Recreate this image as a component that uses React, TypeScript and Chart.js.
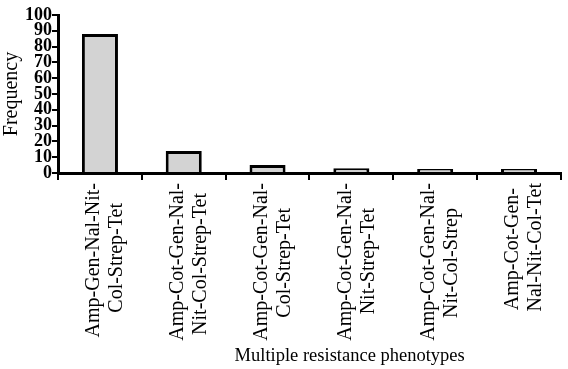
import React, { useEffect, useRef } from "react";
import { Chart, registerables } from "chart.js";

Chart.register(...registerables);

const categories: string[][] = [
  ["Amp-Gen-Nal-Nit-", "Col-Strep-Tet"],
  ["Amp-Cot-Gen-Nal-", "Nit-Col-Strep-Tet"],
  ["Amp-Cot-Gen-Nal-", "Col-Strep-Tet"],
  ["Amp-Cot-Gen-Nal-", "Nit-Strep-Tet"],
  ["Amp-Cot-Gen-Nal-", "Nit-Col-Strep"],
  ["Amp-Cot-Gen-", "Nal-Nit-Col-Tet"],
];
const frequency: number[] = [88, 14, 5, 3, 1, 1];
const yTitle = "Frequency";
const xTitle = "Multiple resistance phenotypes";
const yMin = 0;
const yMax = 100;
const yStep = 10;

const FAMILY = "'Liberation Serif', 'DejaVu Serif', serif";
const LABEL_SIZE = 20;

function centerLines(lines: string[]): string[] {
  const ctx = document.createElement("canvas").getContext("2d")!;
  ctx.font = `${LABEL_SIZE}px ${FAMILY}`;
  const widths = lines.map((l) => ctx.measureText(l).width);
  const max = Math.max(...widths);
  const sp = ctx.measureText("\u00A0").width || LABEL_SIZE * 0.25;
  return lines.map((l, i) => l + "\u00A0".repeat(Math.round((max - widths[i]) / 2 / sp)));
}

const xTitlePlugin = {
  id: "xTitlePlugin",
  afterDraw(chart: any) {
    const { ctx, chartArea } = chart;
    ctx.save();
    ctx.font = `18.5px ${FAMILY}`;
    ctx.fillStyle = "#000";
    ctx.textAlign = "center";
    ctx.textBaseline = "middle";
    const cx = chartArea.left + (chartArea.right - chartArea.left) * 0.58;
    ctx.fillText(xTitle, cx, chart.height - 13);
    ctx.restore();
  },
};

export default function App() {
  const ref = useRef<HTMLCanvasElement | null>(null);
  useEffect(() => {
    if (!ref.current) return;
    const labels = categories.map(centerLines);
    const chart = new Chart(ref.current, {
      type: "bar",
      data: {
        labels,
        datasets: [
          {
            data: frequency,
            backgroundColor: "#d3d3d3",
            borderColor: "#000",
            borderWidth: 3,
            categoryPercentage: 1,
            barPercentage: 0.43,
            minBarLength: 4,
          },
        ],
      },
      plugins: [xTitlePlugin],
      options: {
        responsive: false,
        animation: false,
        layout: { padding: { top: 15, right: -6, bottom: 0, left: 0 } },
        plugins: { legend: { display: false }, tooltip: { enabled: false } },
        scales: {
          x: {
            offset: true,
            afterFit: (scale: any) => {
              scale.height = 196;
            },
            grid: {
              display: true,
              offset: true,
              drawOnChartArea: false,
              drawTicks: true,
              tickLength: 7,
              color: "#000",
              lineWidth: 2,
            },
            border: { display: true, color: "#000", width: 3 },
            ticks: {
              color: "#000",
              font: { family: FAMILY, size: LABEL_SIZE, lineHeight: 1.15 },
              minRotation: 90,
              maxRotation: 90,
              padding: 3,
              autoSkip: false,
              labelOffset: -6,
            },
          },
          y: {
            min: yMin,
            max: yMax,
            afterFit: (scale: any) => {
              scale.width = 58;
            },
            ticks: {
              stepSize: yStep,
              autoSkip: false,
              color: "#000",
              font: { family: FAMILY, size: 18, weight: "bold" },
              padding: 0,
            },
            grid: {
              drawOnChartArea: false,
              drawTicks: true,
              tickLength: 6,
              color: "#000",
              lineWidth: 2,
            },
            border: { display: true, color: "#000", width: 3 },
            title: {
              display: true,
              text: yTitle,
              color: "#000",
              font: { family: FAMILY, size: 20 },
              padding: { top: 0, bottom: 0 },
            },
          },
        },
      },
    });
    return () => chart.destroy();
  }, []);
  return (
    <div style={{ position: "fixed", left: 0, top: 0, width: 568, height: 369, background: "#fff" }}>
      <canvas ref={ref} width={568} height={369} />
    </div>
  );
}
